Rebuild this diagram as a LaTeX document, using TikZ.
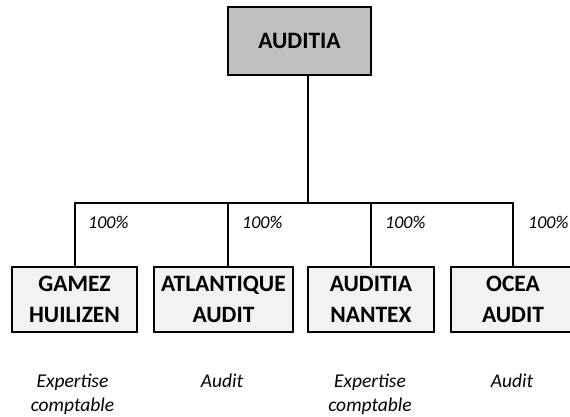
\documentclass[tikz,border=0pt]{standalone}
\usepackage{fontspec}
\setmainfont{Carlito}
\definecolor{topfill}{HTML}{C0C0C0}
\definecolor{subfill}{HTML}{F2F2F2}
\begin{document}
\begin{tikzpicture}[x=1pt,y=-1pt,
  topbox/.style={draw, line width=2.5pt, fill=topfill, minimum width=143pt, minimum height=68pt, inner sep=0pt, font=\fontsize{23.5}{31}\selectfont\bfseries},
  subbox/.style={draw, line width=2.5pt, fill=subfill, minimum height=65pt, inner sep=0pt, align=center, font=\fontsize{23.5}{31}\selectfont\bfseries},
  conn/.style={line width=2pt, line join=miter},
  pct/.style={anchor=base west, inner sep=0pt, font=\fontsize{18}{20}\selectfont\itshape},
  desc/.style={anchor=north, inner sep=0pt, align=center, font=\fontsize{19.5}{24}\selectfont\itshape}]
\useasboundingbox (0,0) rectangle (570,416);
\clip (0,0) rectangle (570,416);
\fill[white] (0,0) rectangle (570,416);

\coordinate (bar) at (308,203);
\coordinate (ad) at (228,203);

\node[topbox] (top) at (299.5,41) {AUDITIA};
\node[subbox, minimum width=125pt] (g) at (74.5,299.5) {GAMEZ\\HUILIZEN};
\node[subbox, minimum width=139pt] (a) at (223.5,299.5) {ATLANTIQUE\\AUDIT};
\node[subbox, minimum width=126pt] (n) at (371,299.5) {AUDITIA\\NANTEX};
\node[subbox, minimum width=124pt] (o) at (513,299.5) {OCEA\\AUDIT};

\draw[conn] (top.south -| bar) -- (bar);
\draw[conn] (g.north) |- (o.north |- bar) -- (o.north);
\draw[conn] (ad) -- (ad |- a.north);
\draw[conn] (n.north |- bar) -- (n.north);

\node[pct] (p1) at (88,228) {100\%};
\node[pct] (p2) at (242,228) {100\%};
\node[pct] (p3) at (385,228) {100\%};
\node[pct] (p4) at (528,228) {100\%};

\node[desc] (d1) at (72.5,373.5) {Expertise\\comptable};
\node[desc] (d2) at (222,373.5) {Audit};
\node[desc] (d3) at (370,373.5) {Expertise\\comptable};
\node[desc] (d4) at (512,373.5) {Audit};
\end{tikzpicture}
\end{document}
